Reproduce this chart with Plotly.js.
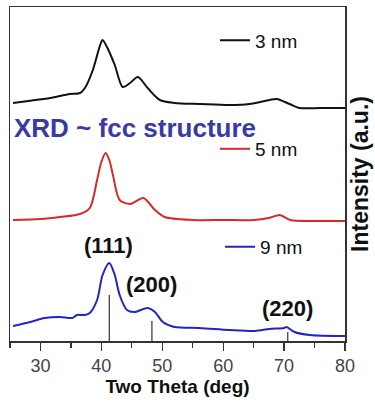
<!DOCTYPE html>
<html>
<head>
<meta charset="utf-8">
<script src="https://cdn.plot.ly/plotly-3.0.1.min.js"></script>
<style>html,body{margin:0;padding:0;background:#fff;}#chart{width:375px;height:404px;}</style>
</head>
<body>
<div id="chart"></div>
<script>
// Two theta (deg) and intensity (a.u., stacked with offsets)
const x3nm = [25.5, 28, 31.6, 34.8, 36.5, 37.3, 38.6, 39.8, 40.2, 41, 42.2, 43.5, 44.7, 46.0, 47.6, 49.6, 52, 56.2, 61.1, 64.3, 67.6, 68.8, 70.9, 72.5, 76, 80];
const y3nm = [238, 240, 243, 247, 248, 253, 271, 296, 301, 293, 276, 254, 258, 264, 253, 241, 238, 237, 236, 237, 241, 242, 237, 233, 233, 233];

const x5nm = [25.5, 30, 33.2, 36.5, 38.1, 39.3, 40.0, 40.7, 41.3, 41.9, 43.0, 44.7, 46.9, 48.8, 50.4, 55, 60, 65, 67.5, 69.3, 71, 75, 80];
const y5nm = [121, 122, 124, 127, 133, 161, 179, 188, 181, 166, 141, 137, 143, 131, 124, 121, 121, 121, 123, 126, 121, 120, 120];

const x9nm = [25.5, 28.3, 30.7, 33.2, 35.2, 36, 37.3, 38.1, 39.3, 40.2, 41.3, 42.2, 43.0, 44.2, 45.5, 47.6, 48.8, 50.1, 52, 56.1, 61, 65.2, 67.6, 70, 70.4, 71.7, 74.2, 80];
const y9nm = [15, 19, 23, 24, 23, 26, 26, 28, 41, 66, 78, 66, 46, 31, 29, 33, 29, 19, 14, 13, 11, 10, 12, 13, 14, 9, 6, 5];

// fcc reference reflections
const refPos = [41.3, 48.3, 70.6];
const refHeight = [46, 20, 9];
const refLabels = ['(111)', '(200)', '(220)'];
const refLabelY = [96, 57, 33];

const seriesNames = ['3 nm', '5 nm', '9 nm'];
const colors = ['#111111', '#d42a2a', '#2424c4'];

const sx = [], sy = [];
refPos.forEach((p, i) => { sx.push(p, p, null); sy.push(0, refHeight[i], null); });

const font = 'Liberation Sans, Arial, sans-serif';
const traces = [
  {x: x3nm, y: y3nm, name: seriesNames[0], mode: 'lines', line: {color: colors[0], width: 2, shape: 'spline', smoothing: 0.8}, legend: 'legend'},
  {x: x5nm, y: y5nm, name: seriesNames[1], mode: 'lines', line: {color: colors[1], width: 2, shape: 'spline', smoothing: 0.8}, legend: 'legend2'},
  {x: x9nm, y: y9nm, name: seriesNames[2], mode: 'lines', line: {color: colors[2], width: 2, shape: 'spline', smoothing: 0.8}, legend: 'legend3'},
  {x: sx, y: sy, mode: 'lines', line: {color: '#333', width: 1.2}, showlegend: false, hoverinfo: 'skip'}
];

const legBase = {bgcolor: 'rgba(0,0,0,0)', font: {family: font, size: 19, color: '#111'}, xanchor: 'left', yanchor: 'middle', itemwidth: 30};
const layout = {
  width: 375, height: 404,
  margin: {l: 10, r: 30, t: 7, b: 63},
  paper_bgcolor: '#fff', plot_bgcolor: '#fff',
  font: {family: font},
  xaxis: {
    range: [25, 80], dtick: 10, tick0: 0,
    ticks: 'outside', ticklen: 8, tickwidth: 1.3, tickcolor: '#333',
    minor: {dtick: 5, ticks: 'outside', ticklen: 5, tickcolor: '#333', tickwidth: 1.3},
    showline: true, mirror: true, linecolor: '#333', linewidth: 1.5,
    showgrid: false, zeroline: false,
    tickfont: {family: font, size: 18, color: '#444'},
    title: {text: '<b>Two Theta (deg)</b>', font: {family: font, size: 19, color: '#111'}, standoff: 2}
  },
  yaxis: {
    range: [0, 334], side: 'right',
    showticklabels: false, ticks: '', showgrid: false, zeroline: false,
    showline: true, mirror: true, linecolor: '#333', linewidth: 1.5,
    title: {text: '<b>Intensity (a.u.)</b>', font: {family: font, size: 23, color: '#111'}, standoff: 6}
  },
  legend: Object.assign({x: 0.612, y: 0.90}, legBase),
  legend2: Object.assign({x: 0.612, y: 0.575}, legBase),
  legend3: Object.assign({x: 0.627, y: 0.282}, legBase),
  annotations: [
    {text: '<b>XRD ~ fcc structure</b>', xref: 'paper', yref: 'y', x: 0.005, y: 213, xanchor: 'left', yanchor: 'middle', showarrow: false, font: {family: font, size: 26, color: '#3a3aa6'}}
  ].concat(refLabels.map((t, i) => ({
    text: '<b>' + t + '</b>', x: refPos[i], y: refLabelY[i], xanchor: 'center', yanchor: 'middle', showarrow: false,
    xshift: i === 0 ? -1 : 0, font: {family: font, size: 22, color: '#111'}
  })))
};

Plotly.newPlot('chart', traces, layout, {displayModeBar: false, staticPlot: true});
</script>
</body>
</html>
